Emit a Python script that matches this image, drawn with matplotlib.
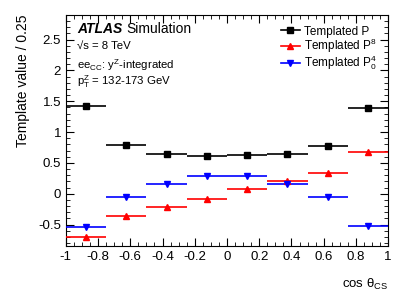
import matplotlib
matplotlib.use("Agg")
import matplotlib.pyplot as plt
from matplotlib.ticker import MultipleLocator
from matplotlib.lines import Line2D
import numpy as np

plt.rcParams['font.family'] = ['Liberation Sans', 'DejaVu Sans']
plt.rcParams['mathtext.fontset'] = 'custom'
plt.rcParams['mathtext.rm'] = 'Liberation Sans'
plt.rcParams['mathtext.it'] = 'Liberation Sans'
plt.rcParams['mathtext.default'] = 'regular'

bin_centers = [-0.875, -0.625, -0.375, -0.125, 0.125, 0.375, 0.625, 0.875]
bin_half_width = 0.125
p8_values = [1.42, 0.79, 0.64, 0.61, 0.62, 0.64, 0.78, 1.39]
p4_values = [-0.70, -0.37, -0.22, -0.085, 0.07, 0.21, 0.34, 0.68]
p0_values = [-0.54, -0.06, 0.15, 0.28, 0.28, 0.15, -0.06, -0.53]
legend_labels = ["Templated P", "Templated P$^{8}$", "Templated P$^{4}_{0}$"]

fig = plt.figure(figsize=(4.09, 2.94), dpi=100)
ax = fig.add_axes([0.161, 0.163, 0.788, 0.786])

series = [
    (p8_values, 'black', 's', legend_labels[0]),
    (p4_values, 'red', '^', legend_labels[1]),
    (p0_values, 'blue', 'v', legend_labels[2]),
]
handles = []
for vals, col, mk, lab in series:
    ax.errorbar(bin_centers, vals, xerr=bin_half_width, fmt=mk, color=col,
                markersize=4.2, elinewidth=1.2, capsize=0, zorder=3)
    handles.append(Line2D([], [], color=col, marker=mk, markersize=4.2, lw=1.2, label=lab))

ax.set_xlim(-1, 1)
ax.set_ylim(-0.85, 2.9)
ax.xaxis.set_minor_locator(MultipleLocator(0.05))
ax.yaxis.set_minor_locator(MultipleLocator(0.1))
ax.tick_params(which='both', direction='in', top=True, right=True, labelsize=9.5)
ax.tick_params(which='major', length=6)
ax.tick_params(which='minor', length=3)
ax.set_xticks(np.round(np.arange(-1, 1.01, 0.2), 1))
ax.set_xticklabels(['-1', '-0.8', '-0.6', '-0.4', '-0.2', '0', '0.2', '0.4', '0.6', '0.8', '1'])
ax.set_yticks([-0.5, 0, 0.5, 1, 1.5, 2, 2.5])
ax.set_yticklabels(['-0.5', '0', '0.5', '1', '1.5', '2', '2.5'])

ax.set_ylabel('Template value / 0.25', fontsize=10, loc='top', labelpad=6)
ax.set_xlabel('cos θ$_{CS}$', fontsize=9.5, loc='right', labelpad=10)

ax.text(0.035, 0.94, 'ATLAS', transform=ax.transAxes, fontsize=10,
        fontweight='bold', fontstyle='italic', va='center')
ax.text(0.188, 0.94, 'Simulation', transform=ax.transAxes, fontsize=10, va='center')
ax.text(0.035, 0.865, '√s = 8 TeV', transform=ax.transAxes, fontsize=8.2, va='center')
ax.text(0.035, 0.785, 'ee$_{CC}$: y$^{Z}$-integrated', transform=ax.transAxes, fontsize=8.2, va='center')
ax.text(0.035, 0.71, 'p$_{T}^{Z}$ = 132-173 GeV', transform=ax.transAxes, fontsize=8.2, va='center')

leg = ax.legend(handles=handles, loc='upper right', bbox_to_anchor=(1.0, 1.0), frameon=False,
                fontsize=8.5, handlelength=1.6, handletextpad=0.4,
                labelspacing=-0.1, borderaxespad=0.5)

fig.savefig('out.png', dpi=100)
